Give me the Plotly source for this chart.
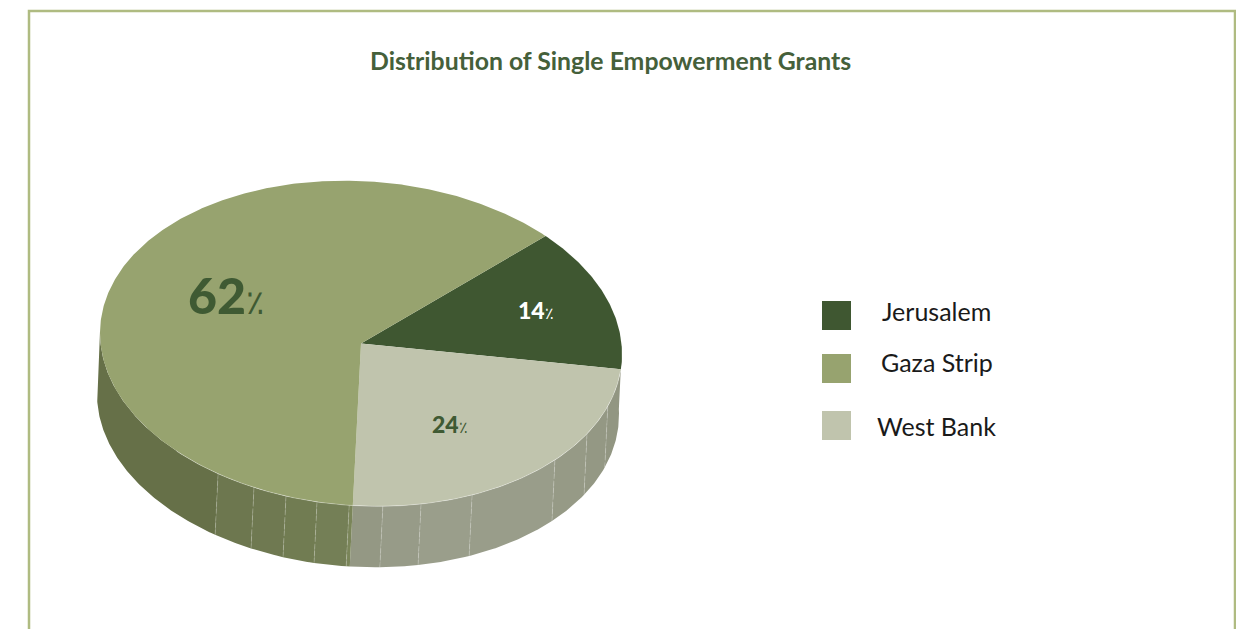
import math
import plotly.graph_objects as go

# ---- data ----
categories = ["Jerusalem", "Gaza Strip", "West Bank"]
slice_order = ["Jerusalem", "West Bank", "Gaza Strip"]   # clockwise order on the pie
shares = {"Jerusalem": 14, "Gaza Strip": 62, "West Bank": 24}
title_text = "Distribution of Single Empowerment Grants"

# ---- style ----
colors = {"Jerusalem": "#3F5731", "Gaza Strip": "#97A36F", "West Bank": "#C0C4AD"}
start_angle = 45.0
CX, CY, RX, RY, TILT = 361.0, 343.5, 261.0, 162.5, 0.04
BX, BY = 358.0, 404.5
FRAME = "#AFBB81"
DARK = "#3F5A33"
FONT = "Lato, 'Noto Sans', sans-serif"
rib_angles = [109, 120, 132, 154.8, 166.7, 175.2, 182.6, 189.7, 196.7, 204.2, 213.2]
wall_bands = [
    (88, 109, "#929682"), (109, 120, "#949884"), (120, 132, "#969A86"), (132, 154.8, "#999D8A"),
    (154.8, 166.7, "#9A9E8B"), (166.7, 175.2, "#979B88"), (175.2, 181.8, "#949884"),
    (181.8, 182.6, "#7A8559"), (182.6, 189.7, "#747F56"), (189.7, 196.7, "#717C52"),
    (196.7, 204.2, "#6F7951"), (204.2, 213.2, "#6D774F"), (213.2, 272, "#667048"),
]


def pt(theta, cx, cy):
    t = math.radians(theta)
    return cx + RX * math.sin(t), cy - RY * math.cos(t) + TILT * RX * math.sin(t)


def arc(a, b, cx, cy):
    n = max(2, int(abs(b - a) / 0.5) + 1)
    return [pt(a + (b - a) * i / (n - 1), cx, cy) for i in range(n)]


def poly(points, color, name=None):
    xs, ys = zip(*points)
    return go.Scatter(x=list(xs), y=list(ys), mode="lines", fill="toself", fillcolor=color,
                      line=dict(width=0, color=color), hoverinfo="skip", showlegend=False)


fig = go.Figure()

# side wall
for a, b, c in wall_bands:
    fig.add_trace(poly(arc(a, b, CX, CY) + arc(b, a, BX, BY), c))
for r in rib_angles:
    p, q = pt(r, CX, CY), pt(r, BX, BY)
    fig.add_trace(go.Scatter(x=[p[0], q[0]], y=[p[1], q[1]], mode="lines",
                             line=dict(width=1, color="rgba(255,255,255,0.2)", dash="5px,2px"),
                             hoverinfo="skip", showlegend=False))

# top face, slices from the values
total = sum(shares.values())
ang = start_angle
for name in slice_order:
    sweep = 360 * shares[name] / total
    fig.add_trace(poly([(CX, CY)] + arc(ang, ang + sweep, CX, CY) + [(CX, CY)], colors[name]))
    ang += sweep

# light rim above the wall
rim = arc(96, 225, CX, CY)
fig.add_trace(go.Scatter(x=[p[0] for p in rim], y=[p[1] for p in rim], mode="lines",
                         line=dict(width=1, color="rgba(255,255,255,0.3)"),
                         hoverinfo="skip", showlegend=False))

# legend
legend_y = {"Jerusalem": 315.5, "Gaza Strip": 368.5, "West Bank": 425.5}
legend_tx = {"Jerusalem": 936, "Gaza Strip": 937, "West Bank": 936}
legend_ty = {"Jerusalem": 311, "Gaza Strip": 362, "West Bank": 426}
for name in categories:
    fig.add_trace(go.Scatter(x=[836.5], y=[legend_y[name]], mode="markers",
                             marker=dict(symbol="square", size=29, color=colors[name], line=dict(width=0)),
                             name=name, showlegend=False))
    fig.add_annotation(x=legend_tx[name], y=legend_ty[name], text=name, showarrow=False,
                       font=dict(family=FONT, size=25, color="#1A1A1A"))


def pct(value, size):
    return f"{value}<span style='font-size:{size}px;font-weight:400'>٪</span>"


# data labels
fig.add_annotation(x=226, y=295, text=pct(shares["Gaza Strip"], 34), showarrow=False,
                   font=dict(family=FONT, size=50, color=DARK, weight=900))
fig.add_annotation(x=536, y=310, text=pct(shares["Jerusalem"], 16), showarrow=False,
                   font=dict(family=FONT, size=23, color="#FFFFFF", weight=900))
fig.add_annotation(x=450, y=424, text=pct(shares["West Bank"], 16), showarrow=False,
                   font=dict(family=FONT, size=23, color=DARK, weight=900))
fig.add_annotation(x=610, y=60, text=title_text, showarrow=False,
                   font=dict(family=FONT, size=24.8, color="#45603A", weight="bold"))

fig.update_layout(
    width=1236, height=629, margin=dict(l=0, r=0, t=0, b=0),
    paper_bgcolor="white", plot_bgcolor="white", showlegend=False,
    xaxis=dict(range=[0, 1236], visible=False, fixedrange=True),
    yaxis=dict(range=[629, 0], visible=False, fixedrange=True),
    shapes=[dict(type="rect", xref="x", yref="y", x0=29, x1=1235, y0=11, y1=700,
                 line=dict(color=FRAME, width=2.5), layer="below")],
)
fig.write_html("out.html", config={"displayModeBar": False},
               post_script="document.body.style.margin='0';document.body.style.overflow='hidden';")
